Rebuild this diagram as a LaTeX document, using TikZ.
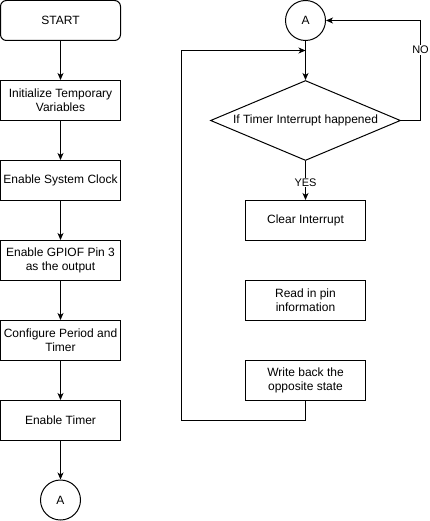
\documentclass[tikz,border=0pt]{standalone}
\usepackage{fontspec}
\setmainfont{Liberation Sans}
\usetikzlibrary{arrows.meta,shapes.geometric}
\begin{document}
\begin{tikzpicture}[x=1pt,y=-1pt,line width=1pt,
  txt/.style={font=\fontsize{12}{14}\selectfont},
  box/.style={txt,draw,minimum width=120pt,minimum height=40pt,inner sep=0pt,align=center},
  startbox/.style={box,rounded corners=6pt},
  conn/.style={txt,draw,circle,minimum size=40pt,inner sep=0pt},
  decision/.style={txt,draw,diamond,aspect=2.375,minimum width=190pt,minimum height=80pt,inner sep=0pt},
  arr/.style={-{Stealth[length=7pt,width=6pt,inset=2pt]}},
  lbl/.style={font=\fontsize{11}{13}\selectfont,fill=white,inner sep=1pt}]
\useasboundingbox (0,0) rectangle (430,521);
% left column
\node[startbox] (start) at (60.5,20.5) {START};
\node[box] (init) at (60.5,100.5) {Initialize Temporary\\Variables};
\node[box] (clk) at (60.5,180.5) {Enable System Clock};
\node[box] (gpio) at (60.5,260.5) {Enable GPIOF Pin 3\\as the output};
\node[box] (cfg) at (60.5,340.5) {Configure Period and\\Timer};
\node[box] (tmr) at (60.5,420.5) {Enable Timer};
\node[conn] (A1) at (60.5,500) {A};
\draw[arr] (start) -- (init);
\draw[arr] (init) -- (clk);
\draw[arr] (clk) -- (gpio);
\draw[arr] (gpio) -- (cfg);
\draw[arr] (cfg) -- (tmr);
\draw[arr] (tmr) -- (A1);
% right column
\node[conn] (A2) at (305.5,20.5) {A};
\node[decision] (dec) at (305.5,120.5) {If Timer Interrupt happened};
\node[box] (clr) at (305.5,220.5) {Clear Interrupt};
\node[box] (rd) at (305.5,300.5) {Read in pin\\information};
\node[box] (wb) at (305.5,380.5) {Write back the\\opposite state};
\coordinate (join) at (305.5,50.5);
\coordinate (loopBL) at (181.5,420.5);
\coordinate (noC) at (420.5,120.5);
\draw[arr] (A2) -- (dec);
\draw[arr] (dec.east) -- (noC) |- (A2.east);
\node[lbl] (no) at (420.5,50) {NO};
\draw[arr] (dec.south) -- node[lbl,pos=0.55] (yes) {YES} (clr.north);
\draw[arr] (wb.south) |- (loopBL) |- (join);
\end{tikzpicture}
\end{document}
